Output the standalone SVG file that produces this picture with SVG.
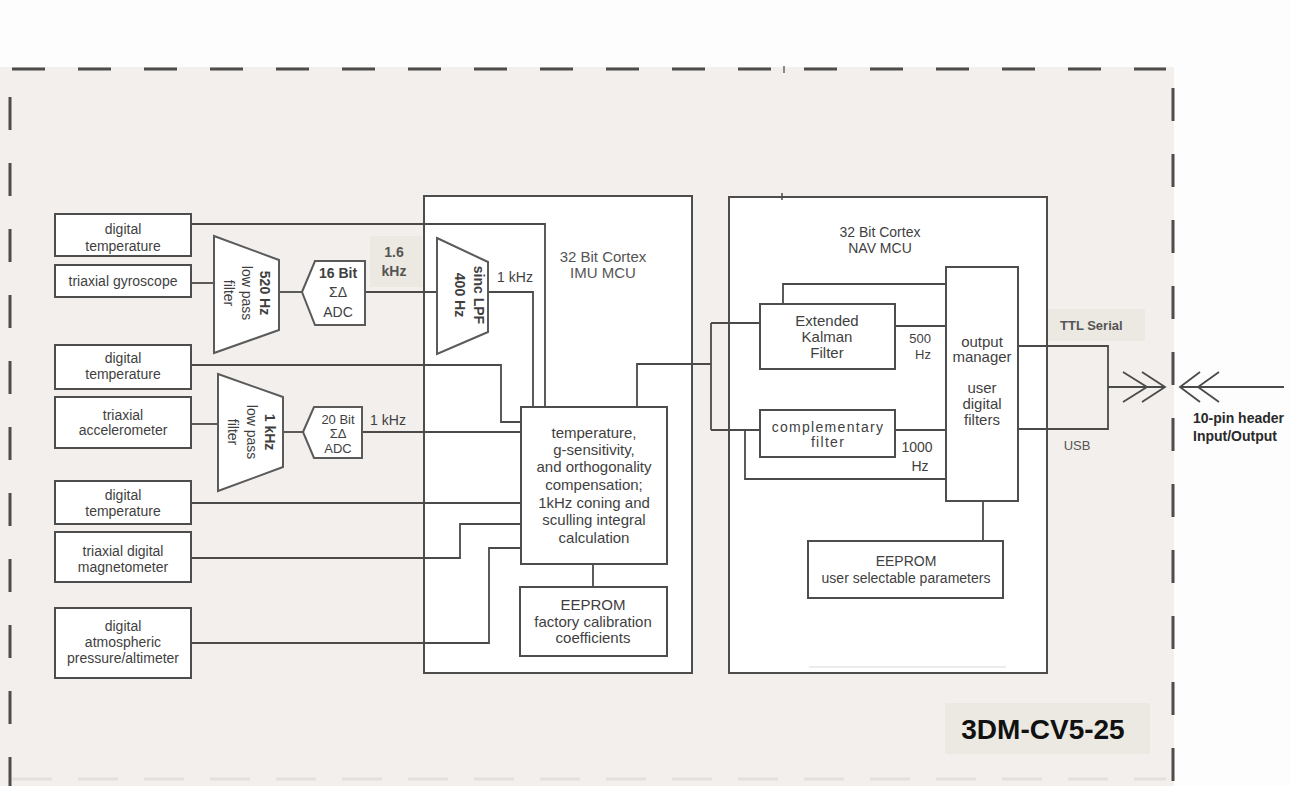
<svg xmlns="http://www.w3.org/2000/svg" width="1291" height="786" viewBox="0 0 1291 786">
<style>
.box{fill:#fff;stroke:#4d4d4d;stroke-width:2}
.shape{fill:#fff;stroke:#5a5a5a;stroke-width:2}
.wire{fill:none;stroke:#4a4a4a;stroke-width:1.8}
.dash{fill:none;stroke:#4d4d4d;stroke-width:3;stroke-dasharray:33 33}
.t{font-family:"Liberation Sans",Arial,sans-serif;font-size:14px;fill:#3f3f3f;text-anchor:middle}
.m{font-size:15px}
.b{font-weight:bold}
.hdr{font-family:"Liberation Sans",Arial,sans-serif;font-size:15px;fill:#555;text-anchor:middle}
.lbl{fill:#555}
.tag{fill:#ebe9e1}
</style>
<rect x="0" y="0" width="1291" height="786" fill="#fdfdfd"/>
<rect x="0" y="67" width="1174" height="719" fill="#f2efec"/>
<g id="border">
<line class="dash" x1="12" y1="69" x2="1166" y2="69"/>
<line class="dash" x1="10" y1="97" x2="10" y2="786"/>
<line class="dash" x1="1173" y1="88" x2="1173" y2="786"/>
<line x1="12" y1="779" x2="1166" y2="779" stroke="#e4e1dd" stroke-width="3" stroke-dasharray="40 26"/>
<line x1="784" y1="66" x2="784" y2="73" stroke="#666" stroke-width="1.5"/>
</g>
<g id="imu-mcu">
<rect class="box" x="424" y="196" width="268" height="477"/>
<text class="hdr" x="603" y="262">32 Bit Cortex</text>
<text class="hdr" x="603" y="278">IMU MCU</text>
</g>
<g id="nav-mcu">
<rect class="box" x="729" y="197" width="318" height="476"/>
<line x1="782" y1="193" x2="782" y2="200" stroke="#4d4d4d" stroke-width="1.5"/>
<line x1="809" y1="667" x2="1006" y2="667" stroke="#dddad6" stroke-width="1.2"/>
<text class="t" x="880" y="237">32 Bit Cortex</text>
<text class="t" x="880" y="253">NAV MCU</text>
</g>
<g id="connectors">
<polyline class="wire" points="191,224 545,224 545,407"/>
<polyline class="wire" points="191,283 214,283"/>
<polyline class="wire" points="279,292 302,292"/>
<polyline class="wire" points="365,292 437,292"/>
<polyline class="wire" points="488,292 533,292 533,407"/>
<polyline class="wire" points="191,365 501,365 501,422 521,422"/>
<polyline class="wire" points="191,424 218,424"/>
<polyline class="wire" points="283,432 303,432"/>
<polyline class="wire" points="362,432 521,432"/>
<polyline class="wire" points="191,503 521,503"/>
<polyline class="wire" points="191,558 460,558 460,524 521,524"/>
<polyline class="wire" points="191,643 489,643 489,548 521,548"/>
<polyline class="wire" points="593,564 593,587"/>
<polyline class="wire" points="637,407 637,364 711,364"/>
<polyline class="wire" points="711,323 711,430"/>
<polyline class="wire" points="711,323 760,323"/>
<polyline class="wire" points="711,430 760,430"/>
<polyline class="wire" points="783,304 783,284 946,284"/>
<polyline class="wire" points="895,326 946,326"/>
<polyline class="wire" points="895,430 946,430"/>
<polyline class="wire" points="745,430 745,479 946,479"/>
<polyline class="wire" points="983,501 983,541"/>
<polyline class="wire" points="1018,346 1108,346 1108,429 1018,429"/>
<polyline class="wire" points="1108,387 1165,387"/>
<polyline class="wire" points="1180,387 1284,387"/>
<polyline class="wire" points="1123,372 1147,387 1123,402"/>
<polyline class="wire" points="1142,372 1165,387 1142,402"/>
<polyline class="wire" points="1200,372 1180,387 1200,402"/>
<polyline class="wire" points="1219,372 1198,387 1219,402"/>
</g>
<g id="temp1"><rect class="box" x="55" y="214" width="136" height="42"/><text class="t" x="123" y="234">digital</text><text class="t" x="123" y="251">temperature</text></g>
<g id="gyro"><rect class="box" x="55" y="265" width="136" height="32"/><text class="t" x="123" y="286">triaxial gyroscope</text></g>
<g id="temp2"><rect class="box" x="55" y="345" width="136" height="44"/><text class="t" x="123" y="363">digital</text><text class="t" x="123" y="379">temperature</text></g>
<g id="accel"><rect class="box" x="55" y="397" width="136" height="51"/><text class="t" x="123" y="420">triaxial</text><text class="t" x="123" y="435">accelerometer</text></g>
<g id="temp3"><rect class="box" x="55" y="481" width="136" height="43"/><text class="t" x="123" y="500">digital</text><text class="t" x="123" y="516">temperature</text></g>
<g id="mag"><rect class="box" x="55" y="532" width="136" height="50"/><text class="t" x="123" y="556">triaxial digital</text><text class="t" x="123" y="572">magnetometer</text></g>
<g id="pressure"><rect class="box" x="55" y="608" width="136" height="70"/><text class="t" x="123" y="631">digital</text><text class="t" x="123" y="647">atmospheric</text><text class="t" x="123" y="663">pressure/altimeter</text></g>
<g id="lpf-gyro">
<polygon class="shape" points="214,236 279,260 279,330 214,353"/>
<g transform="translate(246,293) rotate(90)"><text class="t b" x="0" y="-14">520 Hz</text><text class="t" x="0" y="4">low pass</text><text class="t" x="0" y="22">filter</text></g>
</g>
<g id="adc16">
<polygon class="shape" points="302,292 315,261 365,261 365,325 315,325"/>
<text class="t b" x="338" y="278">16 Bit</text><text class="t" x="338" y="297">ΣΔ</text><text class="t" x="338" y="317">ADC</text>
</g>
<g id="rate-16">
<rect class="tag" x="370" y="236" width="52" height="51"/>
<text class="t b lbl" x="394" y="257">1.6</text><text class="t b lbl" x="394" y="276">kHz</text>
</g>
<g id="sinc">
<polygon class="shape" points="437,238 488,262 488,332 437,354"/>
<g transform="translate(470,295) rotate(90)"><text class="t b" x="0" y="-4">sinc LPF</text><text class="t b" x="0" y="15">400 Hz</text></g>
<text class="t" x="515" y="282">1 kHz</text>
</g>
<g id="lpf-accel">
<polygon class="shape" points="218,374 283,397 283,467 218,491"/>
<g transform="translate(251,432) rotate(90)"><text class="t b" x="0" y="-14">1 kHz</text><text class="t" x="0" y="4">low pass</text><text class="t" x="0" y="23">filter</text></g>
</g>
<g id="adc20">
<polygon class="shape" points="303,432 314,407 362,407 362,458 314,458"/>
<text class="t" x="338" y="424" style="font-size:13px">20 Bit</text><text class="t" x="338" y="438" style="font-size:13px">ΣΔ</text><text class="t" x="338" y="453" style="font-size:13px">ADC</text>
<text class="t" x="388" y="425">1 kHz</text>
</g>
<g id="compensation">
<rect class="box" x="521" y="407" width="146" height="157"/>
<text class="t m" x="594" y="438">temperature,</text>
<text class="t m" x="594" y="455">g-sensitivity,</text>
<text class="t m" x="594" y="472">and orthogonality</text>
<text class="t m" x="594" y="490">compensation;</text>
<text class="t m" x="594" y="508">1kHz coning and</text>
<text class="t m" x="594" y="525">sculling integral</text>
<text class="t m" x="594" y="543">calculation</text>
</g>
<g id="eeprom-factory">
<rect class="box" x="520" y="587" width="147" height="69"/>
<text class="t m" x="593" y="610">EEPROM</text>
<text class="t m" x="593" y="627">factory calibration</text>
<text class="t m" x="593" y="643">coefficients</text>
</g>
<g id="ekf">
<rect class="box" x="760" y="304" width="135" height="65"/>
<text class="t m" x="827" y="326">Extended</text><text class="t m" x="827" y="342">Kalman</text><text class="t m" x="827" y="358">Filter</text>
<text class="t" x="931" y="343" style="text-anchor:end;font-size:13px">500</text><text class="t" x="931" y="359" style="text-anchor:end;font-size:13px">Hz</text>
</g>
<g id="complementary">
<rect class="box" x="760" y="410" width="135" height="47"/>
<text class="t" x="828" y="432" style="letter-spacing:1.3px">complementary</text><text class="t" x="828" y="447" style="letter-spacing:1.3px">filter</text>
<text class="t" x="917" y="452">1000</text><text class="t" x="920" y="471">Hz</text>
</g>
<g id="output-manager">
<rect class="box" x="946" y="267" width="72" height="234"/>
<text class="t m" x="982" y="347">output</text><text class="t m" x="982" y="362">manager</text>
<text class="t m" x="982" y="393">user</text><text class="t m" x="982" y="409">digital</text><text class="t m" x="982" y="425">filters</text>
</g>
<g id="eeprom-user">
<rect class="box" x="808" y="541" width="195" height="57"/>
<text class="t" x="906" y="566">EEPROM</text>
<text class="t" x="906" y="583">user selectable parameters</text>
</g>
<g id="ttl-serial">
<rect class="tag" x="1048" y="309" width="97" height="32"/>
<text class="t b lbl" x="1060" y="330" style="text-anchor:start;font-size:13px">TTL Serial</text>
</g>
<g id="usb"><text class="t lbl" x="1077" y="450" style="font-size:13px">USB</text></g>
<g id="header">
<text class="t b" x="1193" y="423" style="text-anchor:start;fill:#2a2a2a">10-pin header</text>
<text class="t b" x="1193" y="441" style="text-anchor:start;fill:#2a2a2a">Input/Output</text>
</g>
<g id="model">
<rect class="tag" x="945" y="703" width="205" height="51"/>
<text x="1043" y="739" style="font-family:'Liberation Sans',Arial,sans-serif;font-size:28px;font-weight:bold;fill:#111;text-anchor:middle">3DM-CV5-25</text>
</g>
</svg>
